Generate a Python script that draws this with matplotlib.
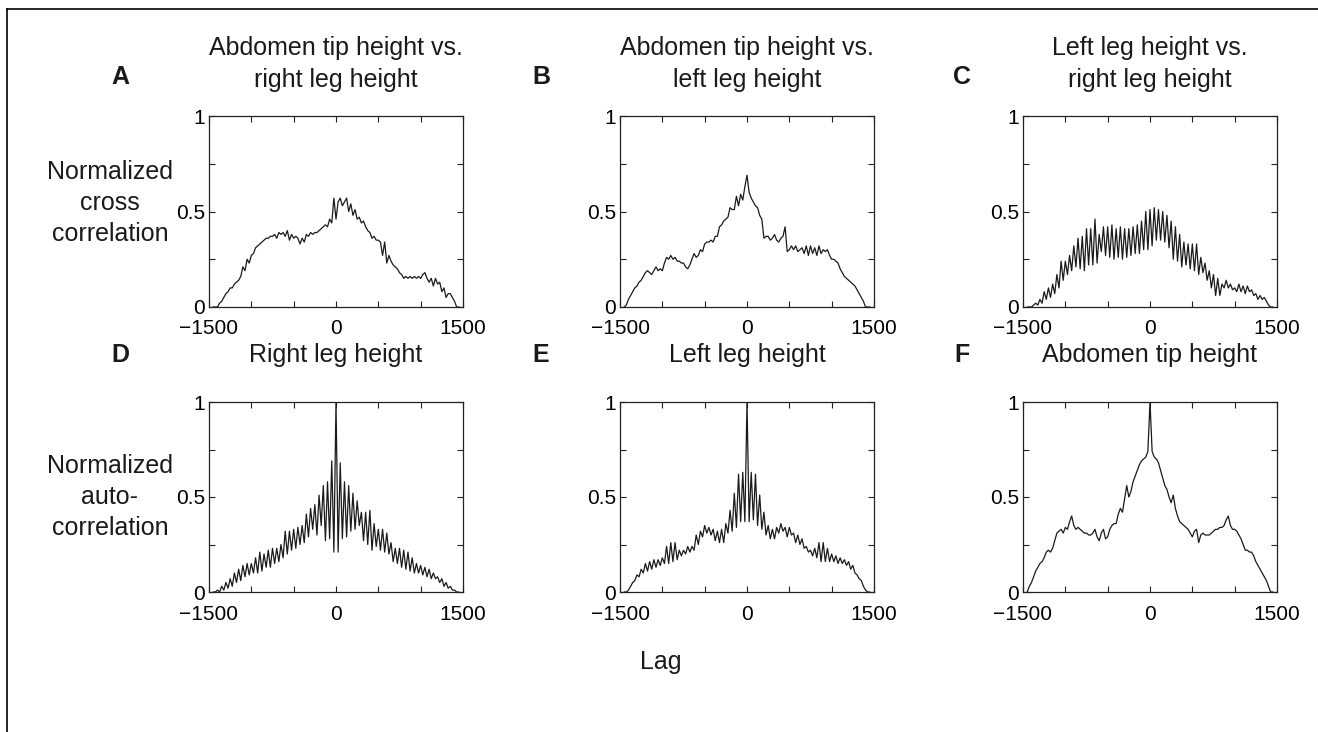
import numpy as np
import matplotlib
matplotlib.use("Agg")
import matplotlib.pyplot as plt
from matplotlib.lines import Line2D

plt.rcParams["font.family"] = ["Liberation Sans", "DejaVu Sans"]

# lag grid shared by all six correlation traces
lags = np.arange(-1450, 1451, 25)

# cross correlations (top row)
abd_vs_right = [
    0.00, 0.00, 0.00, 0.02, 0.03, 0.05, 0.07, 0.08,
    0.10, 0.10, 0.12, 0.13, 0.14, 0.16, 0.21, 0.19,
    0.25, 0.23, 0.27, 0.28, 0.31, 0.32, 0.33, 0.34,
    0.35, 0.36, 0.36, 0.37, 0.37, 0.38, 0.36, 0.39,
    0.38, 0.39, 0.37, 0.40, 0.35, 0.38, 0.36, 0.37,
    0.36, 0.33, 0.36, 0.34, 0.38, 0.37, 0.39, 0.38,
    0.39, 0.39, 0.40, 0.41, 0.42, 0.43, 0.42, 0.46,
    0.44, 0.57, 0.46, 0.55, 0.57, 0.53, 0.55, 0.57,
    0.50, 0.54, 0.48, 0.51, 0.46, 0.47, 0.44, 0.45,
    0.42, 0.40, 0.39, 0.36, 0.37, 0.35, 0.35, 0.34,
    0.27, 0.34, 0.23, 0.27, 0.24, 0.22, 0.21, 0.20,
    0.18, 0.17, 0.15, 0.16, 0.15, 0.16, 0.15, 0.16,
    0.15, 0.16, 0.15, 0.17, 0.18, 0.15, 0.13, 0.15,
    0.11, 0.15, 0.12, 0.13, 0.08, 0.10, 0.05, 0.07,
    0.07, 0.05, 0.03, 0.00, 0.00,
]

abd_vs_left = [
    0.00, 0.01, 0.04, 0.06, 0.08, 0.10, 0.11, 0.13,
    0.14, 0.16, 0.18, 0.19, 0.18, 0.17, 0.19, 0.21,
    0.19, 0.20, 0.19, 0.23, 0.26, 0.25, 0.27, 0.25,
    0.26, 0.24, 0.24, 0.23, 0.23, 0.21, 0.20, 0.22,
    0.25, 0.28, 0.26, 0.27, 0.30, 0.29, 0.33, 0.34,
    0.34, 0.35, 0.34, 0.37, 0.37, 0.42, 0.43, 0.45,
    0.46, 0.47, 0.52, 0.51, 0.51, 0.58, 0.53, 0.59,
    0.56, 0.63, 0.69, 0.60, 0.57, 0.55, 0.53, 0.52,
    0.48, 0.46, 0.36, 0.37, 0.37, 0.35, 0.36, 0.38,
    0.35, 0.34, 0.36, 0.37, 0.42, 0.29, 0.30, 0.32,
    0.30, 0.32, 0.29, 0.30, 0.31, 0.28, 0.32, 0.27,
    0.32, 0.28, 0.31, 0.27, 0.32, 0.28, 0.30, 0.29,
    0.30, 0.27, 0.25, 0.25, 0.24, 0.23, 0.20, 0.18,
    0.16, 0.15, 0.14, 0.13, 0.12, 0.11, 0.09, 0.07,
    0.05, 0.03, 0.00, 0.00, 0.00,
]

left_vs_right = [
    0.00, 0.00, 0.00, 0.01, 0.02, 0.01, 0.04, 0.02,
    0.08, 0.04, 0.10, 0.05, 0.12, 0.07, 0.17, 0.10,
    0.24, 0.14, 0.24, 0.17, 0.27, 0.19, 0.32, 0.21,
    0.36, 0.20, 0.37, 0.19, 0.41, 0.22, 0.41, 0.22,
    0.46, 0.23, 0.38, 0.29, 0.42, 0.27, 0.42, 0.26,
    0.43, 0.25, 0.41, 0.26, 0.42, 0.25, 0.41, 0.26,
    0.41, 0.27, 0.42, 0.28, 0.43, 0.28, 0.45, 0.30,
    0.50, 0.30, 0.51, 0.32, 0.52, 0.35, 0.51, 0.35,
    0.50, 0.34, 0.48, 0.31, 0.45, 0.25, 0.42, 0.24,
    0.38, 0.21, 0.34, 0.22, 0.33, 0.20, 0.33, 0.19,
    0.33, 0.17, 0.26, 0.18, 0.23, 0.14, 0.19, 0.10,
    0.17, 0.06, 0.15, 0.06, 0.12, 0.10, 0.14, 0.10,
    0.12, 0.09, 0.10, 0.08, 0.12, 0.08, 0.11, 0.07,
    0.11, 0.08, 0.09, 0.06, 0.07, 0.04, 0.06, 0.04,
    0.05, 0.03, 0.01, 0.00, 0.00,
]

# autocorrelations (bottom row)
right_auto = [
    0.00, 0.00, 0.01, 0.00, 0.03, 0.01, 0.05, 0.02,
    0.07, 0.03, 0.10, 0.05, 0.12, 0.06, 0.14, 0.08,
    0.15, 0.09, 0.15, 0.10, 0.18, 0.10, 0.21, 0.11,
    0.20, 0.13, 0.22, 0.13, 0.23, 0.15, 0.23, 0.16,
    0.25, 0.18, 0.32, 0.20, 0.32, 0.22, 0.33, 0.23,
    0.34, 0.25, 0.35, 0.26, 0.41, 0.29, 0.44, 0.33,
    0.46, 0.30, 0.51, 0.35, 0.56, 0.27, 0.58, 0.28,
    0.69, 0.21, 1.00, 0.21, 0.68, 0.28, 0.58, 0.29,
    0.56, 0.32, 0.52, 0.33, 0.48, 0.35, 0.42, 0.27,
    0.42, 0.25, 0.43, 0.22, 0.36, 0.24, 0.33, 0.22,
    0.33, 0.21, 0.31, 0.20, 0.26, 0.16, 0.23, 0.15,
    0.23, 0.13, 0.22, 0.12, 0.21, 0.11, 0.18, 0.10,
    0.15, 0.10, 0.14, 0.09, 0.13, 0.08, 0.12, 0.07,
    0.10, 0.07, 0.08, 0.05, 0.07, 0.03, 0.05, 0.02,
    0.03, 0.01, 0.01, 0.00, 0.00,
]

left_auto = [
    0.00, 0.00, 0.01, 0.03, 0.05, 0.06, 0.09, 0.08,
    0.12, 0.10, 0.15, 0.11, 0.16, 0.12, 0.17, 0.13,
    0.17, 0.14, 0.18, 0.15, 0.24, 0.15, 0.26, 0.16,
    0.26, 0.17, 0.22, 0.19, 0.22, 0.20, 0.24, 0.21,
    0.24, 0.22, 0.30, 0.25, 0.32, 0.29, 0.35, 0.31,
    0.34, 0.30, 0.33, 0.27, 0.32, 0.26, 0.33, 0.26,
    0.36, 0.31, 0.43, 0.32, 0.52, 0.34, 0.62, 0.37,
    0.63, 0.37, 1.00, 0.37, 0.63, 0.38, 0.62, 0.35,
    0.51, 0.33, 0.42, 0.30, 0.35, 0.28, 0.33, 0.28,
    0.34, 0.31, 0.36, 0.32, 0.34, 0.29, 0.34, 0.30,
    0.31, 0.26, 0.30, 0.25, 0.28, 0.23, 0.24, 0.21,
    0.22, 0.19, 0.23, 0.18, 0.26, 0.16, 0.26, 0.16,
    0.23, 0.16, 0.20, 0.16, 0.19, 0.15, 0.18, 0.15,
    0.17, 0.14, 0.16, 0.12, 0.14, 0.10, 0.09, 0.07,
    0.06, 0.03, 0.01, 0.00, 0.00,
]

abd_auto = [
    0.00, 0.03, 0.05, 0.08, 0.11, 0.13, 0.15, 0.16,
    0.18, 0.21, 0.22, 0.21, 0.23, 0.27, 0.31, 0.32,
    0.33, 0.31, 0.34, 0.33, 0.37, 0.40, 0.35, 0.33,
    0.34, 0.33, 0.32, 0.31, 0.31, 0.30, 0.30, 0.31,
    0.33, 0.29, 0.27, 0.31, 0.33, 0.28, 0.29, 0.33,
    0.35, 0.36, 0.36, 0.41, 0.44, 0.42, 0.49, 0.56,
    0.50, 0.53, 0.58, 0.61, 0.64, 0.67, 0.69, 0.70,
    0.71, 0.74, 1.00, 0.74, 0.71, 0.70, 0.68, 0.64,
    0.60, 0.56, 0.54, 0.50, 0.47, 0.51, 0.44, 0.40,
    0.37, 0.36, 0.35, 0.34, 0.33, 0.31, 0.29, 0.32,
    0.33, 0.26, 0.30, 0.31, 0.30, 0.30, 0.30, 0.31,
    0.32, 0.33, 0.33, 0.34, 0.34, 0.35, 0.38, 0.40,
    0.35, 0.33, 0.33, 0.32, 0.30, 0.28, 0.25, 0.22,
    0.22, 0.21, 0.21, 0.19, 0.16, 0.14, 0.12, 0.10,
    0.08, 0.06, 0.03, 0.00, 0.00,
]

letters = ["A", "B", "C", "D", "E", "F"]
titles = [
    "Abdomen tip height vs.\nright leg height",
    "Abdomen tip height vs.\nleft leg height",
    "Left leg height vs.\nright leg height",
    "Right leg height",
    "Left leg height",
    "Abdomen tip height",
]
series = [abd_vs_right, abd_vs_left, left_vs_right, right_auto, left_auto, abd_auto]
row_labels = ["Normalized\ncross\ncorrelation", "Normalized\nauto-\ncorrelation"]

W, H = 1318, 732


def fx(x):
    return x / W


def fy(y):
    return 1 - y / H


fig = plt.figure(figsize=(W / 100, H / 100), dpi=100)

col_left = [209, 620, 1023]
ax_w = 254
row_top = [116, 402]
ax_h = [191, 190]
title_y = [64, 355]
letter_y = [77, 355]
letter_x = [120, 541, 962]
row_label_y = [203, 497]

for i, (vals, title, letter) in enumerate(zip(series, titles, letters)):
    r, c = divmod(i, 3)
    left, top, h = col_left[c], row_top[r], ax_h[r]
    ax = fig.add_axes([fx(left), fy(top + h), ax_w / W, h / H])
    ax.plot(lags, vals, color="#1a1a1a", lw=0.9)
    ax.set_xlim(-1500, 1500)
    ax.set_ylim(0, 1)
    ax.set_xticks(np.arange(-1500, 1501, 500))
    ax.set_xticklabels(["\u22121500", "", "", "0", "", "", "1500"])
    ax.set_yticks([0, 0.25, 0.5, 0.75, 1])
    ax.set_yticklabels(["0", "", "0.5", "", "1"])
    ax.tick_params(direction="in", top=True, right=True, length=4,
                   width=0.8, labelsize=15, color="#222222")
    ax.tick_params(axis="x", pad=9)
    ax.tick_params(axis="y", pad=3)
    for sp in ax.spines.values():
        sp.set_linewidth(0.9)
        sp.set_color("#222222")

    fig.text(fx(left + ax_w / 2), fy(title_y[r]), title, ha="center",
             va="center", fontsize=18, linespacing=1.45, color="#1a1a1a")
    fig.text(fx(letter_x[c]), fy(letter_y[r]), letter, ha="center",
             va="center", fontsize=18, fontweight="bold", color="#1a1a1a")

for r, lab in enumerate(row_labels):
    fig.text(fx(110), fy(row_label_y[r]), lab, ha="center", va="center",
             fontsize=18, linespacing=1.35, multialignment="center",
             color="#1a1a1a")

fig.text(fx(661), fy(662), "Lag", ha="center", va="center", fontsize=18,
         color="#1a1a1a")

# open frame along the top and left edge
fig.add_artist(Line2D([fx(7), 1], [fy(9), fy(9)], color="black", lw=1.2))
fig.add_artist(Line2D([fx(7), fx(7)], [fy(9), 0], color="black", lw=1.2))

fig.savefig("out.png", dpi=100)
